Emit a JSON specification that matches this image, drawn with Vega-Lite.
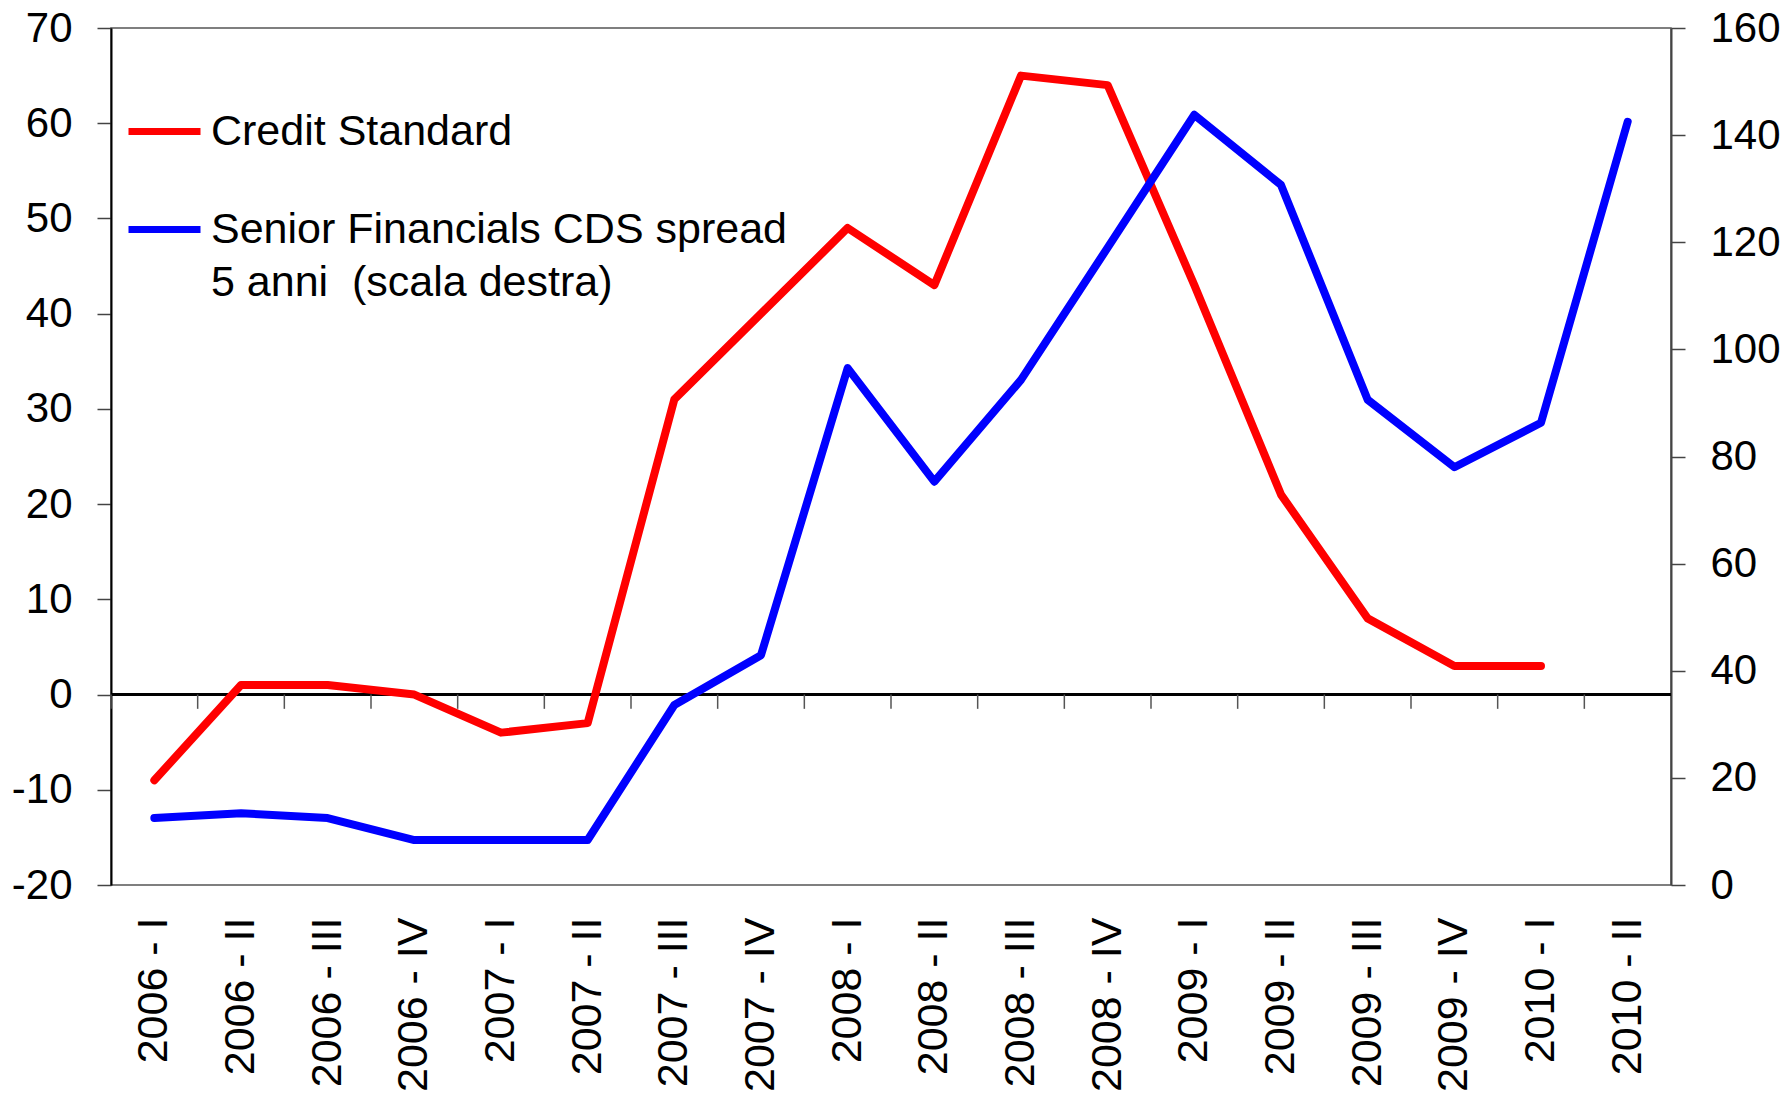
{
  "$schema": "https://vega.github.io/schema/vega-lite/v6.json",
  "width": 1560,
  "height": 857,
  "autosize": {"type": "none"},
  "padding": {"left": 111, "top": 28, "right": 114, "bottom": 212},
  "background": "white",
  "config": {
    "view": {"stroke": "#555555", "strokeWidth": 1.5},
    "font": "Liberation Sans",
    "style": {"guide-label": {"lineHeight": 53}},
    "axis": {"labelFont": "Liberation Sans", "labelColor": "black", "grid": false, "title": null},
    "axisX": {"labelAngle": -90, "labelFontSize": 43, "labelPadding": 32, "domain": false, "ticks": false},
    "axisY": {"labelFontSize": 42, "labelPadding": 25, "tickSize": 14, "tickColor": "#444444", "tickWidth": 1.5, "domainWidth": 2, "labelExpr": "'' + datum.value"}
  },
  "data": {
    "values": [
      {"q": "2006 - I", "series": "Credit Standard", "value": -9},
      {"q": "2006 - II", "series": "Credit Standard", "value": 1},
      {"q": "2006 - III", "series": "Credit Standard", "value": 1},
      {"q": "2006 - IV", "series": "Credit Standard", "value": 0},
      {"q": "2007 - I", "series": "Credit Standard", "value": -4},
      {"q": "2007 - II", "series": "Credit Standard", "value": -3},
      {"q": "2007 - III", "series": "Credit Standard", "value": 31},
      {"q": "2007 - IV", "series": "Credit Standard", "value": 40},
      {"q": "2008 - I", "series": "Credit Standard", "value": 49},
      {"q": "2008 - II", "series": "Credit Standard", "value": 43},
      {"q": "2008 - III", "series": "Credit Standard", "value": 65},
      {"q": "2008 - IV", "series": "Credit Standard", "value": 64},
      {"q": "2009 - I", "series": "Credit Standard", "value": 43},
      {"q": "2009 - II", "series": "Credit Standard", "value": 21},
      {"q": "2009 - III", "series": "Credit Standard", "value": 8},
      {"q": "2009 - IV", "series": "Credit Standard", "value": 3},
      {"q": "2010 - I", "series": "Credit Standard", "value": 3},
      {"q": "2010 - II", "series": "Credit Standard", "value": null},
      {"q": "2006 - I", "series": "Senior Financials CDS spread", "value": 12.5},
      {"q": "2006 - II", "series": "Senior Financials CDS spread", "value": 13.4},
      {"q": "2006 - III", "series": "Senior Financials CDS spread", "value": 12.5},
      {"q": "2006 - IV", "series": "Senior Financials CDS spread", "value": 8.4},
      {"q": "2007 - I", "series": "Senior Financials CDS spread", "value": 8.4},
      {"q": "2007 - II", "series": "Senior Financials CDS spread", "value": 8.4},
      {"q": "2007 - III", "series": "Senior Financials CDS spread", "value": 33.6},
      {"q": "2007 - IV", "series": "Senior Financials CDS spread", "value": 42.9},
      {"q": "2008 - I", "series": "Senior Financials CDS spread", "value": 96.5},
      {"q": "2008 - II", "series": "Senior Financials CDS spread", "value": 75.3},
      {"q": "2008 - III", "series": "Senior Financials CDS spread", "value": 94.3},
      {"q": "2008 - IV", "series": "Senior Financials CDS spread", "value": 119},
      {"q": "2009 - I", "series": "Senior Financials CDS spread", "value": 143.8},
      {"q": "2009 - II", "series": "Senior Financials CDS spread", "value": 130.7},
      {"q": "2009 - III", "series": "Senior Financials CDS spread", "value": 90.6},
      {"q": "2009 - IV", "series": "Senior Financials CDS spread", "value": 78},
      {"q": "2010 - I", "series": "Senior Financials CDS spread", "value": 86.3},
      {"q": "2010 - II", "series": "Senior Financials CDS spread", "value": 142.5}
    ]
  },
  "layer": [
    {
      "layer": [
        {
          "mark": {"type": "rule", "stroke": "black", "strokeWidth": 1.5},
          "encoding": {
            "y": {"datum": 0, "type": "quantitative", "scale": {"domain": [-20, 70], "nice": false, "zero": false}}
          }
        },
        {
          "transform": [{"filter": "datum.series === 'Credit Standard'"}],
          "mark": {"type": "rule", "stroke": "#555555", "strokeWidth": 1.5},
          "encoding": {
            "x": {"field": "q", "type": "ordinal", "sort": null, "bandPosition": 0, "scale": {"type": "band", "paddingInner": 0, "paddingOuter": 0}},
            "y": {"datum": 0, "type": "quantitative", "scale": {"domain": [-20, 70], "nice": false, "zero": false}},
            "y2": {"datum": -1.5}
          }
        },
        {
          "transform": [{"filter": "datum.series === 'Credit Standard'"}],
          "mark": {"type": "line", "strokeWidth": 8, "strokeCap": "round", "strokeJoin": "round"},
          "encoding": {
            "x": {"field": "q", "type": "ordinal", "sort": null, "bandPosition": 0.5, "scale": {"type": "band", "paddingInner": 0, "paddingOuter": 0}},
            "y": {
              "field": "value", "type": "quantitative",
              "scale": {"domain": [-20, 70], "nice": false, "zero": false},
              "axis": {"orient": "left", "values": [-20, -10, 0, 10, 20, 30, 40, 50, 60, 70], "domainColor": "black"}
            },
            "color": {
              "field": "series", "type": "nominal",
              "scale": {"domain": ["Credit Standard", "Senior Financials CDS spread"], "range": ["#FF0000", "#0000FF"]},
              "legend": {
                "orient": "none", "legendX": 14, "legendY": 64, "title": null,
                "symbolType": "stroke", "symbolSize": 5184, "symbolStrokeWidth": 7,
                "labelFontSize": 43, "labelFont": "Liberation Sans", "labelColor": "black", "labelLimit": 1000, "labelOffset": 7,
                "rowPadding": 36, "padding": 0,
                "labelExpr": "datum.label == 'Senior Financials CDS spread' ? ['Senior Financials CDS spread', '5 anni\u00a0 (scala destra)'] : datum.label"
              }
            }
          }
        }
      ]
    },
    {
      "transform": [{"filter": "datum.series === 'Senior Financials CDS spread'"}],
      "mark": {"type": "line", "strokeWidth": 8, "strokeCap": "round", "strokeJoin": "round"},
      "encoding": {
        "x": {"field": "q", "type": "ordinal", "sort": null, "bandPosition": 0.5, "scale": {"type": "band", "paddingInner": 0, "paddingOuter": 0}},
        "y": {
          "field": "value", "type": "quantitative",
          "scale": {"domain": [0, 160], "nice": false},
          "axis": {"orient": "right", "values": [0, 20, 40, 60, 80, 100, 120, 140, 160], "domainColor": "#444444"}
        },
        "color": {"field": "series", "type": "nominal"}
      }
    }
  ],
  "resolve": {"scale": {"y": "independent"}}
}
